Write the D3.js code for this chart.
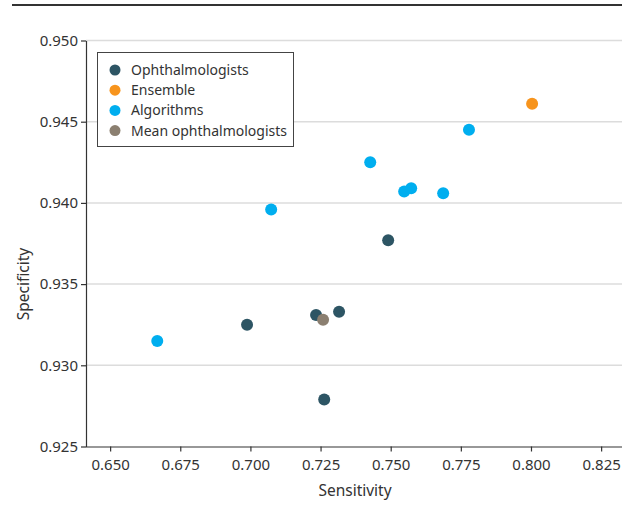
<!DOCTYPE html>
<html>
<head>
<meta charset="utf-8">
<script src="https://cdn.jsdelivr.net/npm/d3@7"></script>
<style>
  body { margin: 0; background: #fff; }
  svg { display: block; font-family: "Noto Sans", sans-serif; }
</style>
</head>
<body>
<div id="chart"></div>
<script>
// values
var ophX = [0.6988, 0.7234, 0.7316, 0.7491, 0.7263];
var ophY = [0.9325, 0.9331, 0.9333, 0.9377, 0.9279];
var ensX = [0.8004];
var ensY = [0.9461];
var algX = [0.6668, 0.7074, 0.7427, 0.7548, 0.7573, 0.7687, 0.7779];
var algY = [0.9315, 0.9396, 0.9425, 0.9407, 0.9409, 0.9406, 0.9445];
var meanX = [0.7259];
var meanY = [0.9328];
var xTicks = [0.650, 0.675, 0.700, 0.725, 0.750, 0.775, 0.800, 0.825];
var yTicks = [0.925, 0.930, 0.935, 0.940, 0.945, 0.950];

var groups = [
  {name: "Ophthalmologists", color: "#2d5564", xs: ophX, ys: ophY},
  {name: "Ensemble", color: "#f7941d", xs: ensX, ys: ensY},
  {name: "Algorithms", color: "#00aeef", xs: algX, ys: algY},
  {name: "Mean ophthalmologists", color: "#8b7f70", xs: meanX, ys: meanY}
];

var W = 622, H = 514;
var padL = 86, padR = 616, padT = 40.5, padB = 446.5;

var svg = d3.select("#chart").append("svg")
  .attr("width", W).attr("height", H);

// rule across the top
svg.append("line")
  .attr("x1", 12).attr("x2", W)
  .attr("y1", 5).attr("y2", 5)
  .attr("stroke", "#333").attr("stroke-width", 2);

var x = d3.scaleLinear().domain([0.6414, 0.8303]).range([padL, padR]);
var y = d3.scaleLinear().domain([0.925, 0.950]).range([padB, padT]);

// horizontal grid
svg.append("g").selectAll("line")
  .data(yTicks.slice(1))
  .join("line")
  .attr("x1", padL).attr("x2", W)
  .attr("y1", d => y(d)).attr("y2", d => y(d))
  .attr("stroke", "#dcdcdc").attr("stroke-width", 1.5);

var xAxis = svg.append("g")
  .attr("transform", `translate(0,${padB})`)
  .call(d3.axisBottom(x).tickValues(xTicks).tickFormat(d3.format(".3f")).tickSize(5).tickSizeOuter(0));
xAxis.select(".domain").attr("d", `M${padL},0.5H${W}`);

var yAxis = svg.append("g")
  .attr("transform", `translate(${padL},0)`)
  .call(d3.axisLeft(y).tickValues(yTicks).tickFormat(d3.format(".3f")).tickSize(5).tickSizeOuter(0));

svg.selectAll(".domain, .tick line").attr("stroke", "#333").attr("stroke-width", 1.2);
svg.selectAll(".tick text")
  .attr("font-family", "Noto Sans, sans-serif")
  .attr("font-size", 15)
  .attr("fill", "#333");
xAxis.selectAll(".tick text").attr("dy", "1.05em");

svg.append("text")
  .attr("x", 355).attr("y", 496)
  .attr("text-anchor", "middle")
  .attr("font-size", 15.5).attr("fill", "#333")
  .text("Sensitivity");

svg.append("text")
  .attr("transform", "translate(29,284) rotate(-90)")
  .attr("text-anchor", "middle")
  .attr("font-size", 15.5).attr("fill", "#333")
  .text("Specificity");

// points
groups.forEach(function(g) {
  svg.append("g").selectAll("circle")
    .data(g.xs.map((v, i) => [v, g.ys[i]]))
    .join("circle")
    .attr("cx", d => x(d[0]))
    .attr("cy", d => y(d[1]))
    .attr("r", 6)
    .attr("fill", g.color);
});

// legend
var lg = svg.append("g");
lg.append("rect")
  .attr("x", 97.5).attr("y", 52.5)
  .attr("width", 196).attr("height", 94)
  .attr("fill", "#fff").attr("stroke", "#444").attr("stroke-width", 1);
groups.forEach(function(g, i) {
  lg.append("circle")
    .attr("cx", 115).attr("cy", 70 + i * 20.2)
    .attr("r", 5.5).attr("fill", g.color);
  lg.append("text")
    .attr("x", 131).attr("y", 70 + i * 20.2)
    .attr("dy", "0.35em")
    .attr("font-size", 14).attr("fill", "#333")
    .text(g.name);
});
</script>
</body>
</html>
